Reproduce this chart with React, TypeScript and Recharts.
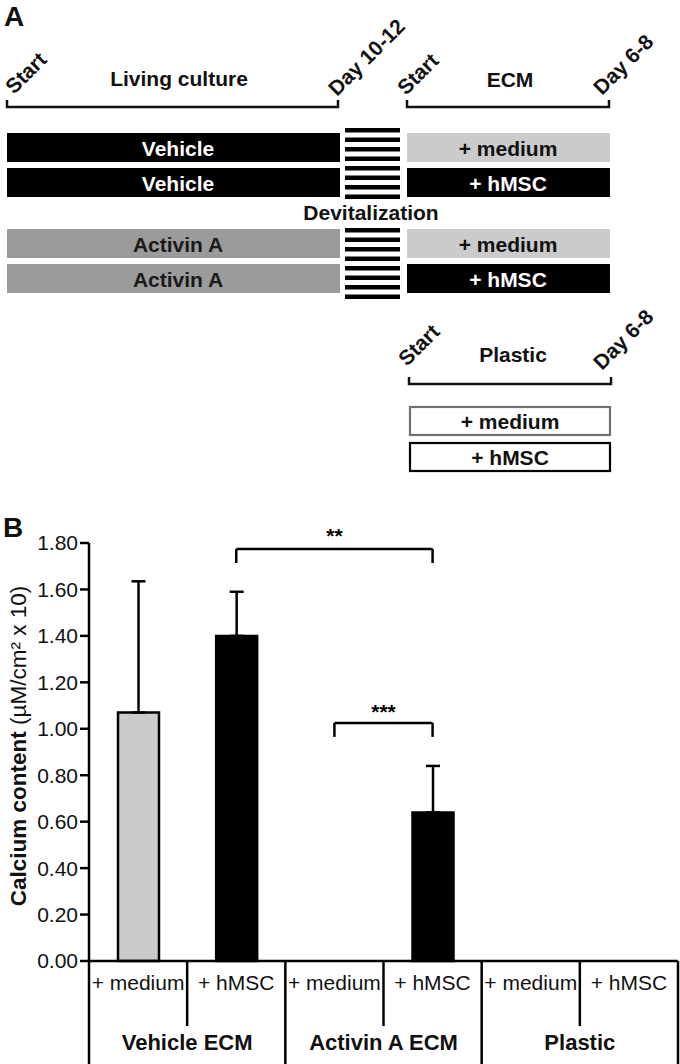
import React from 'react';
import { BarChart, Bar, XAxis, YAxis, Cell, ErrorBar, ReferenceLine } from 'recharts';

const FONT = '"Liberation Sans", Arial, sans-serif';

// ---- panel B data ----
const CATEGORY_KEYS = ['veh-med', 'veh-hmsc', 'act-med', 'act-hmsc', 'pla-med', 'pla-hmsc'];
const CATEGORIES = ['+ medium', '+ hMSC', '+ medium', '+ hMSC', '+ medium', '+ hMSC'];
const GROUPS = ['Vehicle ECM', 'Activin A ECM', 'Plastic'];
const CALCIUM = [1.07, 1.4, null, 0.64, null, null];
const CALCIUM_SD = [0.565, 0.19, null, 0.2, null, null];
const BAR_FILLS = ['#cbcbcb', '#000000', '#cbcbcb', '#000000', '#ffffff', '#ffffff'];
const Y_TICKS = [0, 0.2, 0.4, 0.6, 0.8, 1.0, 1.2, 1.4, 1.6, 1.8];

// significance brackets between categories
const BRACKET_FROM = ['veh-hmsc', 'act-med'];
const BRACKET_TO = ['act-hmsc', 'act-hmsc'];
const BRACKET_Y = [1.774, 1.025];
const BRACKET_LABEL = ['**', '***'];
const BRACKET_DROP = 0.06;

// ---- panel A schematic ----
const CULTURE_ROWS = ['Vehicle', 'Vehicle', 'Activin A', 'Activin A'];
const ECM_ROWS = ['+ medium', '+ hMSC', '+ medium', '+ hMSC'];
const PLASTIC_ROWS = ['+ medium', '+ hMSC'];
const ROW_TOPS = [133, 168, 229, 264];

const data = CATEGORY_KEYS.map((key, i) => ({
  key,
  value: CALCIUM[i],
  err: CALCIUM_SD[i] == null ? null : [0, CALCIUM_SD[i]],
}));

const CHART_W = 680;
const CHART_H = 584;
const MARGIN = { top: 63, right: 2, bottom: 0, left: 0 };
const Y_W = 89;
const BAND = (CHART_W - MARGIN.right - MARGIN.left - Y_W) / CATEGORIES.length;

function CategoryTick(props: any) {
  const { x, y, payload } = props;
  const i = payload.index;
  const left = x - BAND / 2;
  const right = x + BAND / 2;
  const line = { stroke: '#000', strokeWidth: 2.5 };
  return (
    <g>
      <text x={x} y={y + 29} textAnchor="middle" fontSize={21} fill="#111" fontFamily={FONT}>
        {CATEGORIES[i]}
      </text>
      {i % 2 === 0 && <line x1={right} y1={y} x2={right} y2={y + 65} {...line} />}
      {i % 2 === 0 && <line x1={left} y1={y} x2={left} y2={y + 103} {...line} />}
      {i % 2 === 0 && (
        <text x={right} y={y + 89} textAnchor="middle" fontSize={22} fontWeight="bold" fill="#111" fontFamily={FONT}>
          {GROUPS[i / 2]}
        </text>
      )}
      {i === CATEGORIES.length - 1 && <line x1={right} y1={y} x2={right} y2={y + 103} {...line} />}
    </g>
  );
}

function YTitle(props: any) {
  const { viewBox } = props;
  const x = 26;
  const cy = viewBox.y + viewBox.height / 2 - 6;
  return (
    <text
      x={x}
      y={cy}
      transform={`rotate(-90, ${x}, ${cy})`}
      textAnchor="middle"
      fontSize={22.5}
      fill="#111"
      fontFamily={FONT}
    >
      <tspan fontWeight="bold">Calcium content</tspan>
      <tspan> (µM/cm² x 10)</tspan>
    </text>
  );
}

function Slanted({ x, y, text }: { x: number; y: number; text: string }) {
  return (
    <text
      transform={`translate(${x},${y}) rotate(-45)`}
      fontSize={21}
      fontWeight="bold"
      fill="#111"
      fontFamily={FONT}
    >
      {text}
    </text>
  );
}

function Bracket({ x1, x2, y }: { x1: number; x2: number; y: number }) {
  return <path d={`M${x1},${y - 7} V${y} H${x2} V${y - 7}`} fill="none" stroke="#111" strokeWidth={2.5} />;
}

function Stripes({ top }: { top: number }) {
  return (
    <g>
      {Array.from({ length: 8 }).map((_, k) => (
        <rect key={k} x={345} y={top + k * 9.5} width={55} height={4.5} fill="#000" />
      ))}
    </g>
  );
}

function PanelA() {
  const label = { fontSize: 21, fontWeight: 'bold' as const, fontFamily: FONT, textAnchor: 'middle' as const };
  return (
    <svg width={680} height={1064} style={{ position: 'absolute', left: 0, top: 0 }}>
      <text x={4} y={26} fontSize={28} fontWeight="bold" fontFamily={FONT} fill="#111">A</text>
      <text x={3} y={537} fontSize={28} fontWeight="bold" fontFamily={FONT} fill="#111">B</text>

      <Slanted x={14} y={95} text="Start" />
      <Slanted x={337} y={97} text="Day 10-12" />
      <Slanted x={406} y={96} text="Start" />
      <Slanted x={602} y={96} text="Day 6-8" />
      <text x={179} y={86} fill="#111" {...label}>Living culture</text>
      <text x={510} y={87} fill="#111" {...label}>ECM</text>
      <Bracket x1={7} x2={338} y={107} />
      <Bracket x1={407} x2={609} y={107} />

      {CULTURE_ROWS.map((t, i) => (
        <g key={'c' + i}>
          <rect x={7} y={ROW_TOPS[i]} width={333} height={29} fill={i < 2 ? '#000' : '#9b9b9b'} />
          <text x={178} y={ROW_TOPS[i] + 23} fill={i < 2 ? '#fff' : '#1a1a1a'} {...label}>{t}</text>
        </g>
      ))}
      {ECM_ROWS.map((t, i) => (
        <g key={'e' + i}>
          <rect x={407} y={ROW_TOPS[i]} width={203} height={29} fill={i % 2 === 0 ? '#cbcbcb' : '#000'} />
          <text x={508} y={ROW_TOPS[i] + 23} fill={i % 2 === 0 ? '#111' : '#fff'} {...label}>{t}</text>
        </g>
      ))}
      <Stripes top={128} />
      <Stripes top={228} />
      <text x={371} y={220} fill="#111" {...label}>Devitalization</text>

      <Slanted x={407} y={367} text="Start" />
      <Slanted x={602} y={371} text="Day 6-8" />
      <text x={513} y={362} fill="#111" {...label}>Plastic</text>
      <Bracket x1={409} x2={611} y={384} />
      {PLASTIC_ROWS.map((t, i) => (
        <g key={'p' + i}>
          <rect x={410} y={407 + i * 36} width={200} height={28} fill="#fff" stroke={i === 0 ? '#707070' : '#000'} strokeWidth={2.2} />
          <text x={510} y={407 + i * 36 + 22} fill="#111" {...label}>{t}</text>
        </g>
      ))}
    </svg>
  );
}

export default function App() {
  return (
    <div style={{ position: 'absolute', left: 0, top: 0, width: 680, height: 1064, background: '#fff' }}>
      <PanelA />
      <div style={{ position: 'absolute', left: 0, top: 480 }}>
        <BarChart width={CHART_W} height={CHART_H} data={data} margin={MARGIN} barCategoryGap={0}>
          <XAxis
            dataKey="key"
            height={103}
            tickLine={false}
            tickSize={0}
            tickMargin={0}
            interval={0}
            axisLine={{ stroke: '#000', strokeWidth: 2.5 }}
            tick={<CategoryTick />}
          />
          <YAxis
            width={Y_W}
            domain={[0, 1.8]}
            ticks={Y_TICKS}
            interval={0}
            tickFormatter={(v: number) => v.toFixed(2)}
            tick={{ fontSize: 21, fill: '#111', fontFamily: FONT }}
            tickSize={9}
            tickMargin={2}
            axisLine={{ stroke: '#000', strokeWidth: 2.5 }}
            tickLine={{ stroke: '#000', strokeWidth: 2.5 }}
            label={<YTitle />}
          />
          <Bar dataKey="value" barSize={41} stroke="#000" strokeWidth={2.5} isAnimationActive={false}>
            {data.map((d, i) => (
              <Cell key={i} fill={BAR_FILLS[i]} />
            ))}
            <ErrorBar dataKey="err" direction="y" width={7} stroke="#000" strokeWidth={2.5} isAnimationActive={false} />
          </Bar>
          {BRACKET_Y.map((y, i) => (
            <React.Fragment key={i}>
              <ReferenceLine
                segment={[{ x: BRACKET_FROM[i], y: y - BRACKET_DROP }, { x: BRACKET_FROM[i], y }]}
                stroke="#000"
                strokeWidth={2.5}
                ifOverflow="visible"
              />
              <ReferenceLine
                segment={[{ x: BRACKET_FROM[i], y }, { x: BRACKET_TO[i], y }]}
                stroke="#000"
                strokeWidth={2.5}
                ifOverflow="visible"
                label={{
                  value: BRACKET_LABEL[i],
                  position: 'top',
                  offset: i === 0 ? 6 : 4,
                  fontSize: 21,
                  fontWeight: 'bold',
                  fill: '#000',
                  fontFamily: FONT,
                }}
              />
              <ReferenceLine
                segment={[{ x: BRACKET_TO[i], y: y - BRACKET_DROP }, { x: BRACKET_TO[i], y }]}
                stroke="#000"
                strokeWidth={2.5}
                ifOverflow="visible"
              />
            </React.Fragment>
          ))}
        </BarChart>
      </div>
    </div>
  );
}
